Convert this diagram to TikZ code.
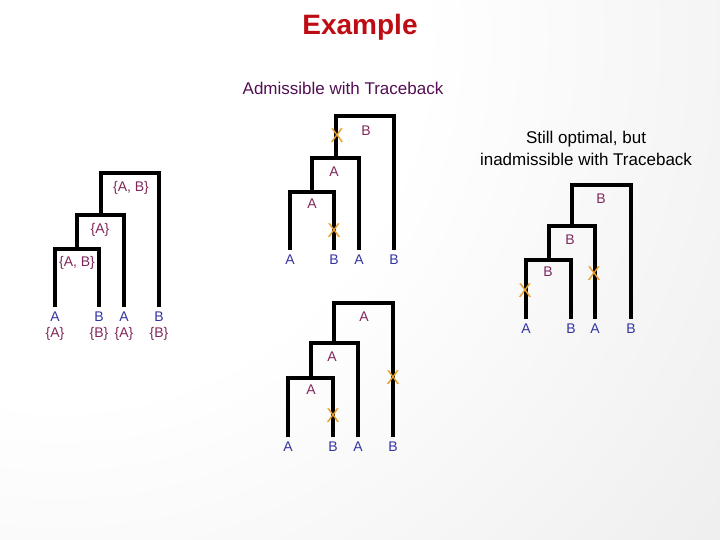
\documentclass[tikz,border=0pt]{standalone}
\usepackage{fontspec}
\setmainfont{Liberation Sans}
\usepackage{tikz}
\usetikzlibrary{positioning}
\definecolor{T}{RGB}{190,12,20}
\definecolor{P}{RGB}{84,14,84}
\definecolor{M}{RGB}{128,40,92}
\definecolor{Lf}{RGB}{52,52,160}
\definecolor{O}{RGB}{232,160,48}
\pgfdeclareradialshading{slidebg}{\pgfpoint{0bp}{0bp}}{color(0bp)=(white); color(10bp)=(white); color(22bp)=(black!6); color(34bp)=(black!10); color(46bp)=(black!19); color(50bp)=(black!20)}
\tikzset{
  branch/.style={line width=4pt},
  leaf/.style={text=Lf, font=\fontsize{14}{14}\selectfont, inner sep=5pt},
  setlab/.style={text=M, font=\fontsize{14}{14}\selectfont, inner sep=0pt},
  tag/.style={text=M, font=\fontsize{14}{14}\selectfont, inner sep=0pt},
  cross/.style={text=O, font=\fontsize{20}{20}\selectfont, inner sep=0pt}
}
% caterpillar tree: leaves #1a..#1d, joins #1p, #1q, #1r
\newcommand{\drawtree}[1]{
    \draw[branch] (#1a.north) |- (#1p) -| (#1b.north);
    \draw[branch] (#1p) |- (#1q) -| (#1c.north);
    \draw[branch] (#1q) |- (#1r) -| (#1d.north);
}

\begin{document}
\begin{tikzpicture}[x=1pt,y=-1pt]
\useasboundingbox (0,0) rectangle (720,540);
\begin{scope}
  \clip (0,0) rectangle (720,540);
  \shade[shading=slidebg] (60,40) circle (900);
\end{scope}
\node[text=T, font=\bfseries\fontsize{28}{28}\selectfont] (title) at (360,27) {Example};
\node[text=P, font=\fontsize{17}{17}\selectfont] (adm) at (343,88) {Admissible with Traceback};
\node[align=center, font=\fontsize{17}{22}\selectfont] (still) at (586,148) {Still optimal, but\\inadmissible with Traceback};

% tree 1: sets
\node[leaf] (ua) at (55,317) {A};
\node[leaf] (ub) at (99,317) {B};
\node[leaf] (uc) at (124,317) {A};
\node[leaf] (ud) at (159,317) {B};
\coordinate (up) at (77,249);
\coordinate (uq) at (100.5,215);
\coordinate (ur) at (129.75,173);
\drawtree{u}
\node[setlab, below=0pt of ua] (uas) {\{A\}};
\node[setlab, below=0pt of ub] (ubs) {\{B\}};
\node[setlab, below=0pt of uc] (ucs) {\{A\}};
\node[setlab, below=0pt of ud] (uds) {\{B\}};
\node[setlab] (upl) at (77,263) {\{A, B\}};
\node[setlab] (uql) at (100,230) {\{A\}};
\node[setlab] (url) at (131,188) {\{A, B\}};

% tree 2
\node[leaf] (va) at (290,260) {A};
\node[leaf] (vb) at (334,260) {B};
\node[leaf] (vc) at (359,260) {A};
\node[leaf] (vd) at (394,260) {B};
\coordinate (vp) at (312,192);
\coordinate (vq) at (335.5,158);
\coordinate (vr) at (364.75,116);
\drawtree{v}
\node[tag] (vpl) at (312,204) {A};
\node[tag] (vql) at (334,172) {A};
\node[tag] (vrl) at (366,131) {B};
\node[cross] (vx1) at (337,136) {X};
\node[cross] (vx2) at (334,231) {X};

% tree 3
\node[leaf] (wa) at (526,329) {A};
\node[leaf] (wb) at (571,329) {B};
\node[leaf] (wc) at (595,329) {A};
\node[leaf] (wd) at (631,329) {B};
\coordinate (wp) at (548.5,260);
\coordinate (wq) at (572,226);
\coordinate (wr) at (601.5,185);
\drawtree{w}
\node[tag] (wpl) at (548,272) {B};
\node[tag] (wql) at (570,240) {B};
\node[tag] (wrl) at (601,199) {B};
\node[cross] (wx1) at (525,291) {X};
\node[cross] (wx2) at (594,274) {X};

% tree 4
\node[leaf] (za) at (288,447) {A};
\node[leaf] (zb) at (333,447) {B};
\node[leaf] (zc) at (358,447) {A};
\node[leaf] (zd) at (393,447) {B};
\coordinate (zp) at (310.5,378);
\coordinate (zq) at (334,343);
\coordinate (zr) at (363.5,303);
\drawtree{z}
\node[tag] (zpl) at (311,390) {A};
\node[tag] (zql) at (332,357) {A};
\node[tag] (zrl) at (364,317) {A};
\node[cross] (zx1) at (393,378) {X};
\node[cross] (zx2) at (333,416) {X};
\end{tikzpicture}
\end{document}
